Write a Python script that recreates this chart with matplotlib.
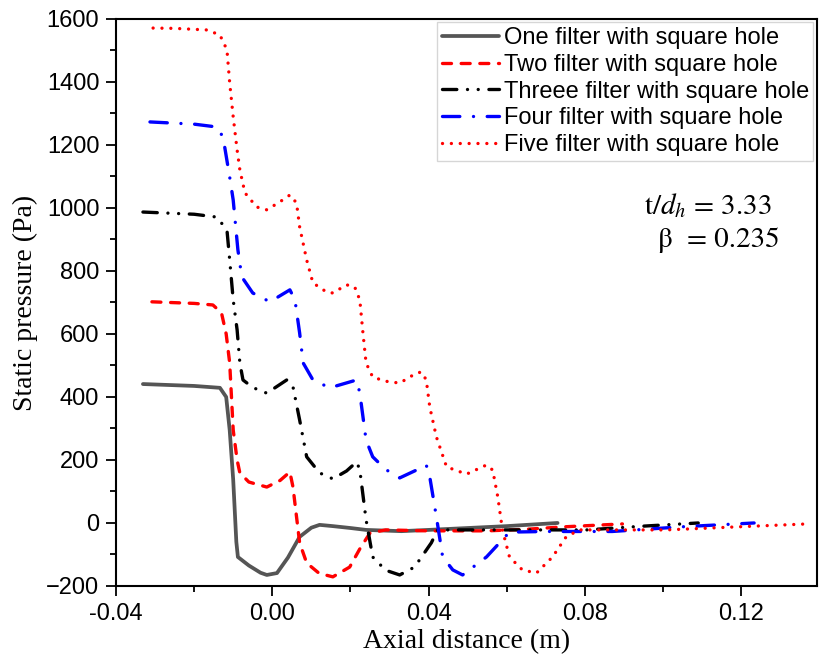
import matplotlib
matplotlib.use("Agg")
import matplotlib.pyplot as plt
from matplotlib.ticker import MultipleLocator

labels = ["One filter with square hole", "Two filter with square hole",
          "Threee filter with square hole", "Four filter with square hole",
          "Five filter with square hole"]

one_x = [-0.0331, -0.020, -0.0134, -0.0118, -0.0109, -0.0100, -0.0092, -0.0088, -0.0060, -0.0030,
         -0.0014, 0.0012, 0.0040, 0.0070, 0.0100, 0.0121, 0.0155, 0.0200, 0.0240, 0.0330,
         0.0400, 0.0500, 0.0600, 0.0730]
one_y = [441, 435, 429, 400, 295, 137, -60, -108, -135, -158, -165, -159, -110, -44, -15, -6,
         -10, -16, -22, -26, -22, -16, -10, 0]

two_x = [-0.0308, -0.020, -0.0152, -0.0130, -0.0118, -0.0109, -0.0100, -0.0090, -0.0083, -0.0060,
         -0.0014, 0.0020, 0.0045, 0.0053, 0.0062, 0.0070, 0.0088, 0.0120, 0.0155, 0.0198, 0.0225,
         0.0250, 0.0290, 0.0400, 0.0550, 0.0650, 0.0750, 0.0896]
two_y = [702, 697, 692, 667, 600, 508, 295, 200, 159, 130, 114, 135, 162, 114, 20, -63, -127,
         -160, -171, -140, -80, -32, -22, -25, -25, -20, -12, -3]

three_x = [-0.0331, -0.020, -0.0142, -0.0116, -0.0109, -0.0100, -0.0090, -0.0083, -0.0075, -0.0050,
           -0.0014, 0.0037, 0.0053, 0.0070, 0.0088, 0.0121, 0.0155, 0.0190, 0.0216, 0.0224, 0.0240,
           0.0257, 0.0290, 0.0326, 0.0364, 0.0407, 0.0423, 0.0500, 0.0600, 0.0700, 0.0804, 0.0950,
           0.1090]
three_y = [987, 980, 971, 930, 835, 708, 613, 508, 454, 430, 412, 454, 432, 327, 210, 159, 140,
           165, 194, 168, 10, -108, -150, -165, -140, -63, -22, -22, -22, -22, -22, -10, 0]

four_x = [-0.0313, -0.020, -0.0142, -0.0126, -0.0109, -0.0100, -0.0088, -0.0078, -0.0050, -0.0006,
          0.0045, 0.0058, 0.0070, 0.0079, 0.0104, 0.0147, 0.0216, 0.0224, 0.0240, 0.0257, 0.0290,
          0.0326, 0.0369, 0.0394, 0.0403, 0.0420, 0.0436, 0.0462, 0.0487, 0.0548, 0.0607, 0.0700,
          0.0870, 0.1050, 0.1233]
four_y = [1273, 1266, 1257, 1225, 1098, 1025, 867, 781, 730, 702, 740, 708, 603, 508, 454, 429,
          454, 412, 263, 210, 170, 143, 168, 184, 146, 19, -108, -149, -165, -108, -29, -27, -27,
          -12, 0]

five_x = [-0.0305, -0.0250, -0.0167, -0.0134, -0.0116, -0.0109, -0.0100, -0.0090, -0.0083, -0.0070,
          -0.0040, -0.0014, 0.0019, 0.0045, 0.0062, 0.0070, 0.0088, 0.0104, 0.0139, 0.0155, 0.0190,
          0.0211, 0.0224, 0.0232, 0.0240, 0.0257, 0.0290, 0.0326, 0.0369, 0.0382, 0.0394, 0.0403,
          0.0420, 0.0446, 0.0497, 0.0548, 0.0564, 0.0577, 0.0589, 0.0607, 0.0640, 0.0676, 0.0717,
          0.0752, 0.0786, 0.0900, 0.1008, 0.1177, 0.1370]
five_y = [1571, 1570, 1565, 1549, 1502, 1397, 1289, 1184, 1121, 1048, 1003, 994, 1019, 1041, 1016,
          940, 835, 762, 733, 730, 756, 749, 708, 603, 508, 463, 450, 444, 476, 479, 454, 368, 273,
          178, 155, 184, 168, 83, -22, -108, -149, -159, -108, -44, -22, -22, -22, -13, -3]

plt.rcParams['font.family'] = ['Liberation Sans', 'DejaVu Sans']
plt.rcParams['mathtext.fontset'] = 'stix'

fig = plt.figure(figsize=(8.19, 6.64), dpi=100)
ax = fig.add_axes([0.1416, 0.1175, 0.856, 0.854])

lw = 2.4
kw = dict(lw=lw, dash_capstyle='round', solid_capstyle='round')
ax.plot(one_x, one_y, color="#555555", lw=2.7, solid_capstyle='round', label=labels[0])
ax.plot(two_x, two_y, color="red", dashes=(2.7, 2.9), label=labels[1], **kw)
ax.plot(three_x, three_y, color="black", dashes=(4.3, 3.2, 0.01, 3.2, 0.01, 3.2),
        label=labels[2], **kw)
ax.plot(four_x, four_y, color="blue", dashes=(5.2, 4.1, 0.01, 4.1), label=labels[3], **kw)
ax.plot(five_x, five_y, color="red", dashes=(0.01, 2.65), label=labels[4], **kw)

ax.set_xlim(-0.04, 0.1394)
ax.set_ylim(-200, 1600)
ax.set_xticks([-0.04, 0.00, 0.04, 0.08, 0.12])
ax.set_xticklabels(["-0.04", "0.00", "0.04", "0.08", "0.12"])
ax.xaxis.set_minor_locator(MultipleLocator(0.02))
ax.yaxis.set_major_locator(MultipleLocator(200))
ax.yaxis.set_minor_locator(MultipleLocator(100))
ax.tick_params(which='major', direction='out', length=7, width=1.3, labelsize=17, pad=5)
ax.tick_params(which='minor', direction='out', length=4, width=1.3)
for s in ax.spines.values():
    s.set_linewidth(1.5)

ax.set_xlabel("Axial distance (m)", fontsize=20, family='Liberation Serif', labelpad=3)
ax.set_ylabel("Static pressure (Pa)", fontsize=20, family='Liberation Serif', labelpad=6)

leg = ax.legend(loc='upper right', fontsize=17, frameon=True, fancybox=False,
                borderaxespad=0.15, labelspacing=0.2, handlelength=2.4, handletextpad=0.2,
                borderpad=0.2)
leg.get_frame().set_edgecolor("#cccccc")
leg.get_frame().set_linewidth(1.0)

ax.text(0.935, 0.67, r"t/$d_h$ = 3.33", transform=ax.transAxes, ha='right', va='center',
        fontsize=21, family='STIXGeneral')
ax.text(0.947, 0.61, "β  = 0.235", transform=ax.transAxes, ha='right', va='center',
        fontsize=21, family='STIXGeneral')

fig.savefig("out.png", dpi=100)
